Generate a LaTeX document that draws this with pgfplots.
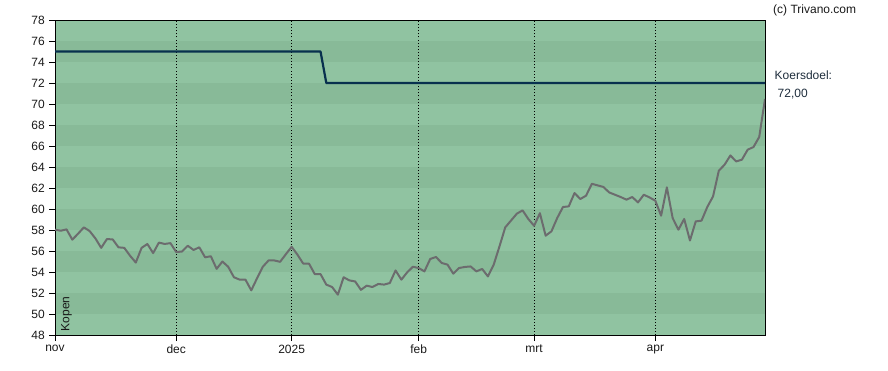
\documentclass[border=0pt]{standalone}
\usepackage{fontspec}
\setmainfont{Liberation Sans}
\usepackage{pgfplots}
\usepackage{pgfplotstable}
\pgfplotsset{compat=1.18}
\definecolor{bandlight}{RGB}{144,195,161}
\definecolor{banddark}{RGB}{136,186,152}
\definecolor{pricegray}{RGB}{108,108,110}
\definecolor{navy}{RGB}{8,48,78}
\definecolor{txt}{RGB}{25,25,25}
\definecolor{kdtxt}{RGB}{30,45,60}

\pgfplotstableread{
x y
0 58.03
1 57.93
2 58.06
3 57.08
4 57.65
5 58.25
6 57.90
7 57.20
8 56.30
9 57.14
10 57.10
11 56.35
12 56.30
13 55.55
14 54.90
15 56.30
16 56.67
17 55.80
18 56.80
19 56.67
20 56.75
21 55.90
22 55.95
23 56.50
24 56.10
25 56.35
26 55.40
27 55.50
28 54.30
29 55.00
30 54.50
31 53.50
32 53.27
33 53.27
34 52.25
35 53.40
36 54.50
37 55.10
38 55.10
39 54.97
40 55.70
41 56.40
42 55.65
43 54.80
44 54.80
45 53.80
46 53.80
47 52.80
48 52.57
49 51.84
50 53.50
51 53.20
52 53.10
53 52.30
54 52.70
55 52.57
56 52.86
57 52.80
58 52.95
59 54.15
60 53.27
61 53.96
62 54.50
63 54.38
64 54.06
65 55.24
66 55.43
67 54.86
68 54.70
69 53.84
70 54.38
71 54.48
72 54.53
73 54.06
74 54.29
75 53.58
76 54.70
77 56.44
78 58.25
79 58.90
80 59.55
81 59.87
82 59.05
83 58.40
84 59.60
85 57.46
86 57.87
87 59.14
88 60.19
89 60.25
90 61.52
91 60.95
92 61.27
93 62.40
94 62.25
95 62.10
96 61.58
97 61.36
98 61.14
99 60.89
100 61.14
101 60.63
102 61.36
103 61.10
104 60.79
105 59.36
106 62.06
107 59.14
108 58.03
109 59.05
110 57.00
111 58.82
112 58.89
113 60.19
114 61.20
115 63.65
116 64.22
117 65.10
118 64.53
119 64.70
120 65.65
121 65.90
122 66.86
123 70.48
}\price

\begin{document}
\fontsize{12}{14}\selectfont
\begin{tikzpicture}
\begin{axis}[
  set layers,
  at={(0pt,0pt)}, anchor=south west,
  scale only axis, width=710pt, height=315pt,
  xmin=0, xmax=123, ymin=48, ymax=78,
  ytick={48,50,...,78},
  xtick={0,21,41,63,83,104},
  xticklabels={nov,dec,2025,feb,mrt,apr},
  tick align=outside, major tick length=6pt,
  xtick pos=bottom, ytick pos=left,
  xmajorgrids, grid style={black, line width=0.9pt, dash pattern=on 0.9pt off 2.2pt},
  axis background/.style={fill=bandlight},
  axis line style={black, line width=0.9pt},
  tick style={black, line width=0.9pt},
  ticklabel style={font=\fontsize{12}{14}\selectfont, text=txt},
  /pgf/number format/assume math mode=true,
]
\begin{pgfonlayer}{axis background}
\fill[banddark] (axis cs:0,50) rectangle (axis cs:123,52);
\fill[banddark] (axis cs:0,54) rectangle (axis cs:123,56);
\fill[banddark] (axis cs:0,58) rectangle (axis cs:123,60);
\fill[banddark] (axis cs:0,62) rectangle (axis cs:123,64);
\fill[banddark] (axis cs:0,66) rectangle (axis cs:123,68);
\fill[banddark] (axis cs:0,70) rectangle (axis cs:123,72);
\fill[banddark] (axis cs:0,74) rectangle (axis cs:123,76);
\end{pgfonlayer}
\addplot[navy, line width=2.2pt, line join=round] coordinates {(0,75) (46,75) (47,72) (123,72)};
\addplot[pricegray, line width=2pt, line join=round] table {\price};
\node[rotate=90, anchor=north west, inner sep=0pt, font=\fontsize{12}{14}\selectfont, text=txt] at ([xshift=6pt,yshift=3.5pt]axis cs:0,48) {Kopen};
\coordinate (NE) at (rel axis cs:1,1);
\end{axis}
\node[anchor=base west, inner sep=0pt, text=txt] at ([xshift=8pt,yshift=7pt]NE) {(c) Trivano.com};
\node[anchor=base west, inner sep=0pt, text=kdtxt] at ([xshift=9.5pt,yshift=-59pt]NE) {Koersdoel:};
\node[anchor=base west, inner sep=0pt, text=kdtxt] at ([xshift=12.5pt,yshift=-77.5pt]NE) {72,00};
\pgfresetboundingbox
\path[use as bounding box] (-55pt,-35pt) rectangle (833pt,335pt);
\end{tikzpicture}
\end{document}
